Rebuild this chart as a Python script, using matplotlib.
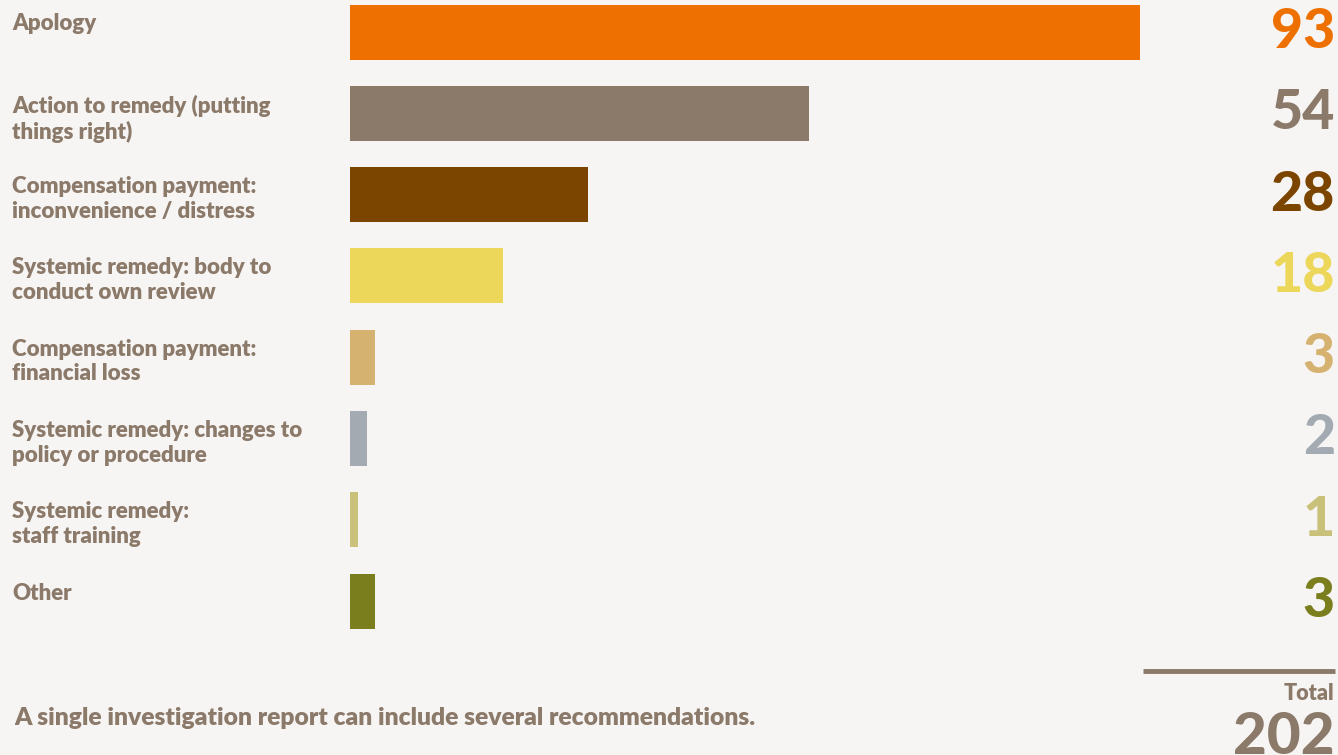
import matplotlib
matplotlib.use('Agg')
import matplotlib.pyplot as plt

categories = [
    "Apology",
    "Action to remedy (putting\nthings right)",
    "Compensation payment:\ninconvenience / distress",
    "Systemic remedy: body to\nconduct own review",
    "Compensation payment:\nfinancial loss",
    "Systemic remedy: changes to\npolicy or procedure",
    "Systemic remedy:\nstaff training",
    "Other",
]
values = [93, 54, 28, 18, 3, 2, 1, 3]
colors = ["#EE7000", "#8B7969", "#7B4500", "#ECD75A",
          "#D6B270", "#A3AAB2", "#C9C07A", "#7A7E1C"]
total = sum(values)
footnote = "A single investigation report can include several recommendations."

TEXT = "#8B7969"
BG = "#F7F5F3"
FONT = ["Lato", "DejaVu Sans"]

W, H = 1338, 755
fig = plt.figure(figsize=(W / 100, H / 100), dpi=100, facecolor=BG)

# bar area: left edge at x=350px, right to figure edge
ax = fig.add_axes([350 / W, 0, 1 - 350 / W, 1])
ax.set_facecolor("none")
pitch = 81.3
ax.set_ylim((H - 32) / pitch, -32 / pitch)
ax.set_xlim(0, 93 * (W - 350) / 790)
ypos = list(range(len(values)))
ax.barh(ypos, values, height=55 / pitch, color=colors, align="center")
ax.axis("off")

for i, (lab, v, c) in enumerate(zip(categories, values, colors)):
    ytop = 1 - (32 + pitch * i - 27.5 + 9) / H
    fig.text(12 / W, ytop, lab, ha="left", va="top", fontsize=16,
             fontweight="heavy", color=TEXT, family=FONT, linespacing=1.22)
    fig.text(1335 / W, 1 - (32 + pitch * i) / H, str(v), ha="right",
             va="center", fontsize=40, fontweight="black", color=c, family=FONT)

# total rule and figure
fig.add_artist(plt.Line2D([1143 / W, 1335 / W], [1 - 671 / H, 1 - 671 / H],
                          color=TEXT, linewidth=3.5, solid_capstyle="butt"))
fig.text(1334 / W, 1 - 693 / H, "Total", ha="right", va="center",
         fontsize=15.5, fontweight="heavy", color=TEXT, family=FONT)
fig.text(1335 / W, 1 - 754 / H, str(total), ha="right", va="baseline",
         fontsize=42, fontweight="black", color=TEXT, family=FONT)

fig.text(14 / W, 1 - 718 / H, footnote, ha="left", va="center",
         fontsize=17.7, fontweight="heavy", color=TEXT, family=FONT)

fig.savefig("out.png", dpi=100, facecolor=BG)
